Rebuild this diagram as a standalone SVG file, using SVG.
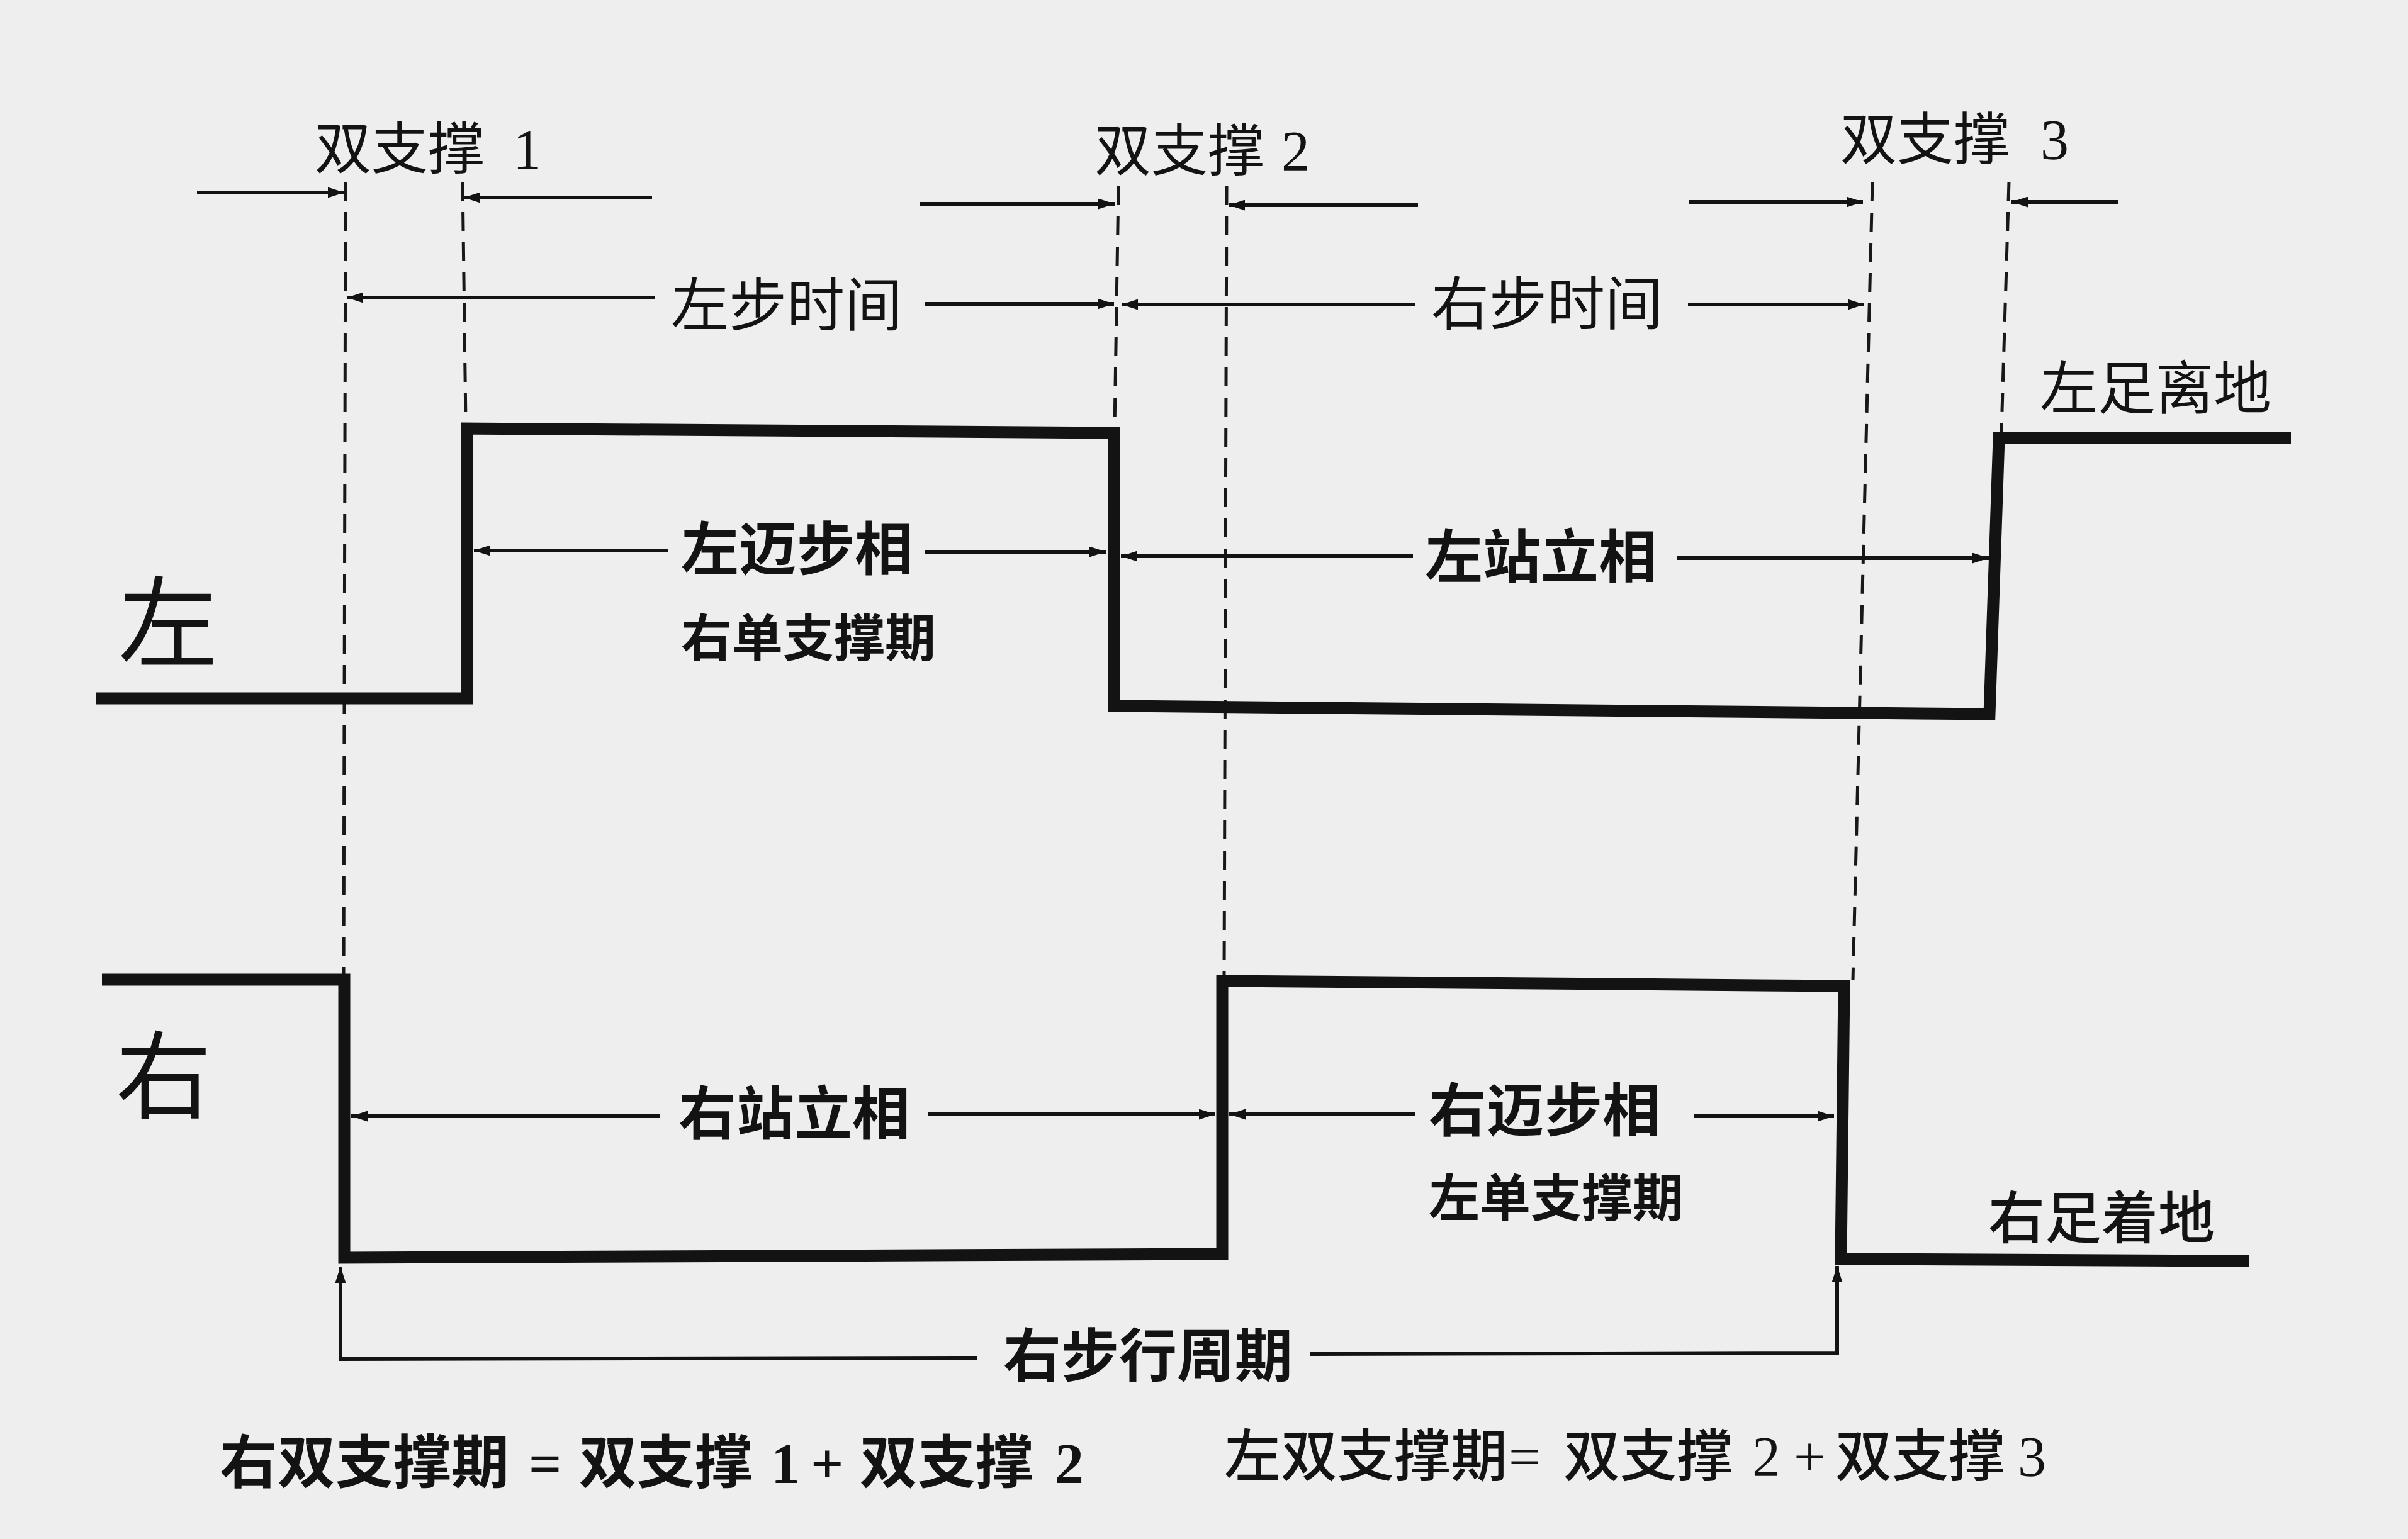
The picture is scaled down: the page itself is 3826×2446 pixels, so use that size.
<svg xmlns="http://www.w3.org/2000/svg" width="3826" height="2446" viewBox="0 0 3826 2446">
<style>
.bg{fill:#eeeeee}
.sig{fill:none;stroke:#131313;stroke-width:19;stroke-linejoin:miter;stroke-linecap:butt}
.dash{fill:none;stroke:#181818;stroke-width:5;stroke-dasharray:30 18}
.arr{fill:none;stroke:#131313;stroke-width:6}
.t{font-family:"Noto Sans CJK SC","Noto Sans CJK TC",sans-serif;fill:#131313}
.b{font-weight:700}
.m{font-weight:500}
.n{font-family:"Liberation Serif","Noto Sans CJK SC",serif}
</style>
<defs>
<marker id="ah" markerUnits="userSpaceOnUse" markerWidth="26" markerHeight="17" refX="26" refY="8.5" orient="auto">
<path d="M0,0 L26,8.5 L0,17 z" fill="#131313"/>
</marker>
</defs>
<rect class="bg" x="0" y="0" width="3826" height="2446"/>

<g id="guides">
<line class="dash" x1="549" y1="289" x2="546" y2="1550"/>
<line class="dash" x1="735" y1="289" x2="740" y2="672"/>
<line class="dash" x1="1777" y1="296" x2="1771" y2="680"/>
<line class="dash" x1="1949" y1="296" x2="1945" y2="1550"/>
<line class="dash" x1="2975" y1="290" x2="2944" y2="1558"/>
<line class="dash" x1="3192" y1="289" x2="3180" y2="686"/>
</g>

<g id="signal-left">
<path class="sig" d="M153,1110 L742,1110 L742,681 L1770,688 L1770,1122 L3161,1135 L3176,696 L3640,696"/>
</g>
<g id="signal-right">
<path class="sig" d="M162,1557 L547,1557 L547,1999 L1942,1993 L1942,1559 L2930,1567 L2925,2001 L3574,2004"/>
</g>

<g id="connectors">
<line class="arr" x1="313" y1="306" x2="547" y2="306" marker-end="url(#ah)"/>
<line class="arr" x1="1036" y1="314" x2="737" y2="314" marker-end="url(#ah)"/>
<line class="arr" x1="1462" y1="324" x2="1771" y2="324" marker-end="url(#ah)"/>
<line class="arr" x1="2253" y1="326" x2="1952" y2="326" marker-end="url(#ah)"/>
<line class="arr" x1="2684" y1="321" x2="2960" y2="321" marker-end="url(#ah)"/>
<line class="arr" x1="3366" y1="321" x2="3196" y2="321" marker-end="url(#ah)"/>

<line class="arr" x1="1040" y1="473" x2="551" y2="473" marker-end="url(#ah)"/>
<line class="arr" x1="1470" y1="483" x2="1770" y2="483" marker-end="url(#ah)"/>
<line class="arr" x1="2249" y1="484" x2="1782" y2="484" marker-end="url(#ah)"/>
<line class="arr" x1="2682" y1="484" x2="2962" y2="484" marker-end="url(#ah)"/>

<line class="arr" x1="1061" y1="875" x2="753" y2="875" marker-end="url(#ah)"/>
<line class="arr" x1="1469" y1="877" x2="1757" y2="877" marker-end="url(#ah)"/>
<line class="arr" x1="2245" y1="884" x2="1781" y2="884" marker-end="url(#ah)"/>
<line class="arr" x1="2665" y1="887" x2="3160" y2="887" marker-end="url(#ah)"/>

<line class="arr" x1="1049" y1="1774" x2="558" y2="1774" marker-end="url(#ah)"/>
<line class="arr" x1="1474" y1="1771" x2="1931" y2="1771" marker-end="url(#ah)"/>
<line class="arr" x1="2249" y1="1771" x2="1953" y2="1771" marker-end="url(#ah)"/>
<line class="arr" x1="2692" y1="1774" x2="2914" y2="1774" marker-end="url(#ah)"/>

<path class="arr" d="M1553,2158 L541,2160 L541,2013" marker-end="url(#ah)"/>
<path class="arr" d="M2082,2152 L2919,2150 L2919,2012" marker-end="url(#ah)"/>
</g>

<g id="label-ds1"><text class="t" x="500" y="268" font-size="90">双支撑<tspan class="n" x="815">1</tspan></text></g>
<g id="label-ds2"><text class="t" x="1739" y="271" font-size="90">双支撑<tspan class="n" x="2036">2</tspan></text></g>
<g id="label-ds3"><text class="t" x="2924" y="253" font-size="90">双支撑<tspan class="n" x="3242">3</tspan></text></g>

<g id="label-left-step"><text class="t" x="1066" y="518" font-size="92">左步时间</text></g>
<g id="label-right-step"><text class="t" x="2274" y="516" font-size="92">右步时间</text></g>

<g id="label-left"><text class="t" x="188" y="1048" font-size="158">左</text></g>
<g id="label-right"><text class="t" x="184" y="1766" font-size="152">右</text></g>

<g id="label-left-swing"><text class="t b" x="1082" y="906" font-size="92">左迈步相</text>
<text class="t b" x="1082" y="1043" font-size="81">右单支撑期</text></g>
<g id="label-left-stance"><text class="t b" x="2264" y="918" font-size="92">左站立相</text></g>
<g id="label-left-off"><text class="t" x="3241" y="650" font-size="92">左足离地</text></g>

<g id="label-right-stance"><text class="t b" x="1078" y="1803" font-size="92">右站立相</text></g>
<g id="label-right-swing"><text class="t b" x="2270" y="1798" font-size="92">右迈步相</text>
<text class="t b" x="2270" y="1933" font-size="81">左单支撑期</text></g>
<g id="label-right-on"><text class="t m" x="3159" y="1968" font-size="90">右足着地</text></g>

<g id="label-cycle"><text class="t b" x="1594" y="2188" font-size="92">右步行周期</text></g>

<g id="formula-right"><text class="t b" y="2357" font-size="92"><tspan x="349">右双支撑期</tspan><tspan class="n" x="840">=</tspan><tspan x="920">双支撑</tspan><tspan class="n" x="1225">1</tspan><tspan class="n" x="1288">+</tspan><tspan x="1366">双支撑</tspan><tspan class="n" x="1676">2</tspan></text></g>
<g id="formula-left"><text class="t m" y="2346" font-size="90"><tspan x="1945">左双支撑期</tspan><tspan class="n" x="2397">=</tspan><tspan x="2484">双支撑</tspan><tspan class="n" x="2784">2</tspan><tspan class="n" x="2850">+</tspan><tspan x="2916">双支撑</tspan><tspan class="n" x="3206">3</tspan></text></g>
</svg>
